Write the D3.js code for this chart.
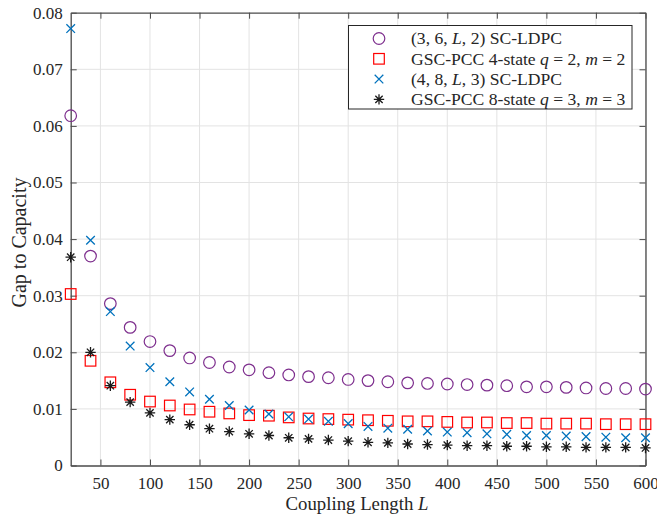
<!DOCTYPE html>
<html><head><meta charset="utf-8">
<script src="https://cdn.jsdelivr.net/npm/d3@7"></script>
<style>
body{margin:0;background:#fff;}
svg text{font-family:"Liberation Serif","DejaVu Serif",serif;fill:#262626;}
</style></head>
<body><div id="chart"></div>
<script>
const L = [20,40,60,80,100,120,140,160,180,200,220,240,260,280,300,320,340,360,380,400,420,440,460,480,500,520,540,560,580,600];
const scldpc362 = [0.0618,0.0370,0.0286,0.0244,0.0219,0.0203,0.0190,0.0182,0.0174,0.0169,0.0164,0.0160,0.0157,0.0155,0.0152,0.0150,0.0148,0.0146,0.0145,0.0144,0.0143,0.0142,0.0141,0.0139,0.0139,0.0138,0.0137,0.0136,0.0136,0.0135];
const gscpcc4 = [0.0303,0.0185,0.0147,0.0125,0.0113,0.0106,0.0099,0.0095,0.0092,0.0089,0.0088,0.0085,0.0083,0.0082,0.0081,0.0080,0.0079,0.0078,0.0078,0.0077,0.0076,0.0076,0.0075,0.0075,0.0074,0.0074,0.0074,0.0073,0.0073,0.0073];
const scldpc483 = [0.0772,0.0398,0.0272,0.0211,0.0173,0.0148,0.0130,0.0117,0.0106,0.0098,0.0091,0.0086,0.0082,0.0078,0.0074,0.0069,0.0066,0.0064,0.0061,0.0059,0.0058,0.0056,0.0055,0.0053,0.0053,0.0052,0.0051,0.0050,0.0049,0.0049];
const gscpcc8 = [0.0368,0.0200,0.0141,0.0112,0.0093,0.0081,0.0072,0.0065,0.0060,0.0056,0.0053,0.0049,0.0047,0.0045,0.0043,0.0041,0.0040,0.0038,0.0037,0.0036,0.0035,0.0035,0.0034,0.0034,0.0033,0.0033,0.0032,0.0032,0.0032,0.0031];
const xTicks = [50,100,150,200,250,300,350,400,450,500,550,600];
const yTicks = [0,0.01,0.02,0.03,0.04,0.05,0.06,0.07,0.08];
const xLabel = "Coupling Length ";
const yLabel = "Gap to Capacity";

const series = [
  {values: scldpc362, color:"#7E2F8E", marker:"circle", label:[["(3, 6, ",""],["L","i"],[", 2) SC-LDPC",""]]},
  {values: gscpcc4, color:"#FF0000", marker:"square", label:[["GSC-PCC 4-state ",""],["q","i"],[" = 2, ",""],["m","i"],[" = 2",""]]},
  {values: scldpc483, color:"#0072BD", marker:"cross", label:[["(4, 8, ",""],["L","i"],[", 3) SC-LDPC",""]]},
  {values: gscpcc8, color:"#1a1a1a", marker:"star", label:[["GSC-PCC 8-state ",""],["q","i"],[" = 3, ",""],["m","i"],[" = 3",""]]}
];

const W = 657, H = 516;
const m = {left:70.7, right:W-645.5, top:12.7, bottom:H-465.5};
const svg = d3.select("#chart").append("svg").attr("width",W).attr("height",H);
const x = d3.scaleLinear().domain([20,600]).range([m.left, W-m.right]);
const y = d3.scaleLinear().domain([0,0.08]).range([H-m.bottom, m.top]);
const axisColor = "#4a4a4a";

// grid
const g = svg.append("g");
g.selectAll(".gx").data(xTicks).enter().append("line")
  .attr("x1",d=>x(d)).attr("x2",d=>x(d)).attr("y1",y(0)).attr("y2",y(0.08))
  .attr("stroke","#e3e3e3").attr("stroke-width",1);
g.selectAll(".gy").data(yTicks.slice(1,-1)).enter().append("line")
  .attr("x1",x(20)).attr("x2",x(600)).attr("y1",d=>y(d)).attr("y2",d=>y(d))
  .attr("stroke","#e3e3e3").attr("stroke-width",1);

// axes
const fmtY = d => d===0 ? "0" : d3.format(".2f")(d);
const ax = svg.append("g").attr("transform",`translate(0,${y(0)})`)
  .call(d3.axisBottom(x).tickValues(xTicks).tickSizeInner(-6).tickSizeOuter(0).tickPadding(11));
const ay = svg.append("g").attr("transform",`translate(${x(20)},0)`)
  .call(d3.axisLeft(y).tickValues(yTicks).tickFormat(fmtY).tickSizeInner(-6).tickSizeOuter(0).tickPadding(8));
const axT = svg.append("g").attr("transform",`translate(0,${y(0.08)})`)
  .call(d3.axisTop(x).tickValues(xTicks).tickSizeInner(-6).tickSizeOuter(0).tickFormat(""));
const ayR = svg.append("g").attr("transform",`translate(${x(600)},0)`)
  .call(d3.axisRight(y).tickValues(yTicks).tickSizeInner(-6).tickSizeOuter(0).tickFormat(""));
[ax,ay,axT,ayR].forEach(a=>{
  a.select(".domain").attr("stroke",axisColor).attr("stroke-width",1.3);
  a.selectAll(".tick line").attr("stroke",axisColor).attr("stroke-width",1);
  a.selectAll("text").attr("font-size",17).attr("font-family","Liberation Serif, serif").attr("fill","#262626");
});

// axis labels
const xl = svg.append("text").attr("x",357).attr("y",509.5)
  .attr("text-anchor","middle").attr("font-size",18.8);
xl.append("tspan").text(xLabel);
xl.append("tspan").attr("font-style","italic").text("L");
svg.append("text").attr("transform",`translate(26,242.5) rotate(-90)`)
  .attr("text-anchor","middle").attr("font-size",20).text(yLabel);

// markers
function drawMarker(sel, type, color){
  if(type==="circle"){
    sel.append("circle").attr("r",5.8).attr("fill","none").attr("stroke",color).attr("stroke-width",1.2);
  } else if(type==="square"){
    sel.append("rect").attr("x",-5.3).attr("y",-5.3).attr("width",10.6).attr("height",10.6)
      .attr("fill","none").attr("stroke",color).attr("stroke-width",1.2);
  } else if(type==="cross"){
    sel.append("path").attr("d","M-4.3,-4.3L4.3,4.3M-4.3,4.3L4.3,-4.3").attr("stroke",color).attr("stroke-width",1.3).attr("fill","none");
  } else if(type==="star"){
    const r=5.2, dd=r*0.707;
    sel.append("path").attr("d",`M-${r},0L${r},0M0,-${r}L0,${r}M-${dd},-${dd}L${dd},${dd}M-${dd},${dd}L${dd},-${dd}`)
      .attr("stroke",color).attr("stroke-width",1.3).attr("fill","none");
  }
}
series.forEach(s=>{
  const gs = svg.append("g");
  s.values.forEach((v,i)=>{
    const pt = gs.append("g").attr("transform",`translate(${x(L[i])},${y(v)})`);
    drawMarker(pt, s.marker, s.color);
  });
});

// legend
const lg = svg.append("g");
lg.append("rect").attr("x",348.5).attr("y",25.5).attr("width",283.5).attr("height",83.5)
  .attr("fill","#fff").attr("stroke","#262626").attr("stroke-width",1);
series.forEach((s,i)=>{
  const yy = 38.5 + i*20.3;
  const mk = lg.append("g").attr("transform",`translate(379,${yy})`);
  drawMarker(mk, s.marker, s.color);
  const t = lg.append("text").attr("x",411).attr("y",yy+5.8).attr("font-size",17.6);
  s.label.forEach(p=>{
    const ts = t.append("tspan").text(p[0]);
    if(p[1]==="i") ts.attr("font-style","italic");
  });
});
</script></body></html>
